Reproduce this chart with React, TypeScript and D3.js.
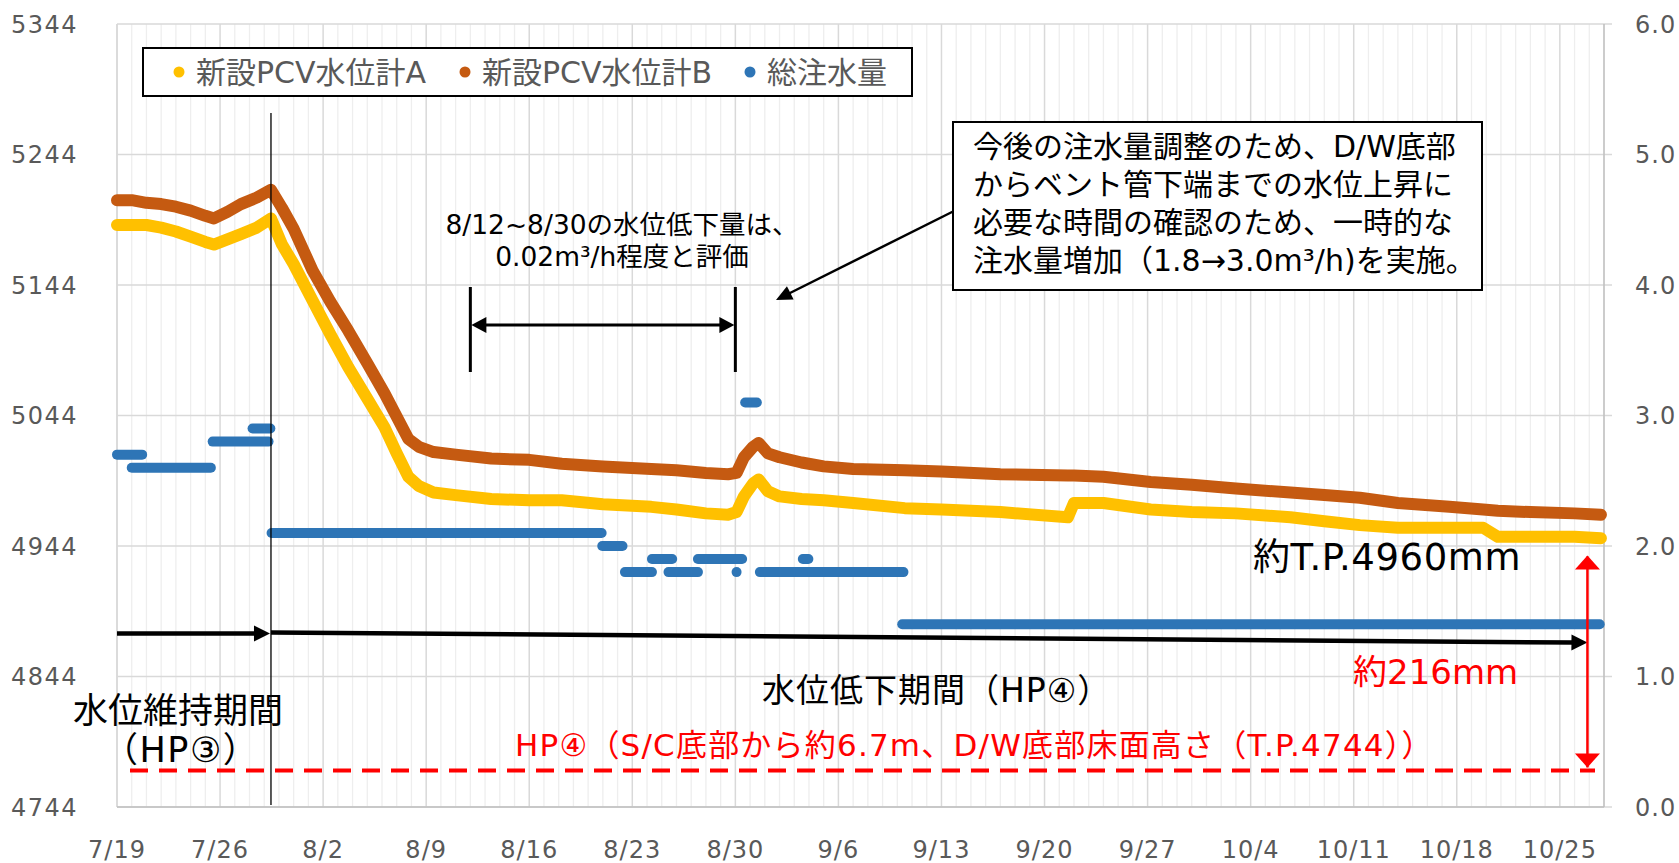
import React from "react";
import * as d3 from "d3";

// ---------- data ----------
const YEAR = 2023;
const xTickLabels = ["7/19", "7/26", "8/2", "8/9", "8/16", "8/23", "8/30", "9/6", "9/13", "9/20", "9/27", "10/4", "10/11", "10/18", "10/25"];
const xDomain = ["7/19 00:00", "10/28 00:00"];
const leftTicks = [4744, 4844, 4944, 5044, 5144, 5244, 5344];
const rightTicks = [0, 1, 2, 3, 4, 5, 6];

const levelTimes = [
  "7/19 00:00", "7/20 00:00", "7/21 00:00", "7/22 00:00", "7/23 00:00", "7/24 00:00", "7/25 00:00", "7/25 14:00",
  "7/26 12:00", "7/27 10:00", "7/28 12:00", "7/29 11:00", "7/30 05:00", "7/31 00:00", "8/1 07:00", "8/2 12:00",
  "8/3 17:00", "8/5 00:00", "8/6 04:00", "8/7 00:00", "8/7 19:00", "8/8 12:00", "8/9 12:00", "8/11 00:00",
  "8/13 10:00", "8/16 00:00", "8/18 05:00", "8/21 00:00", "8/24 07:00", "8/26 00:00", "8/28 00:00", "8/29 12:00",
  "8/30 02:00", "8/30 14:00", "8/31 05:00", "8/31 14:00", "9/1 05:00", "9/2 00:00", "9/3 12:00", "9/5 00:00",
  "9/7 00:00", "9/10 12:00", "9/13 00:00", "9/17 00:00", "9/21 14:00", "9/22 00:00", "9/24 00:00", "9/27 05:00",
  "9/30 00:00", "10/3 00:00", "10/6 17:00", "10/9 00:00", "10/11 10:00", "10/14 00:00", "10/17 12:00", "10/19 19:00",
  "10/20 19:00", "10/23 00:00", "10/26 00:00", "10/27 19:00",
];
const levelA = [
  5190, 5190, 5190, 5188, 5185, 5181, 5177, 5175,
  5179, 5183, 5188, 5195, 5175, 5160, 5132, 5106,
  5081, 5057, 5035, 5015, 4997, 4990, 4985, 4983,
  4980, 4979, 4979, 4976, 4974, 4972, 4969, 4968,
  4970, 4982, 4992, 4995, 4986, 4982, 4980, 4979,
  4977, 4973, 4972, 4970, 4966, 4977, 4977, 4972,
  4970, 4969, 4966, 4963, 4960, 4958, 4958, 4958,
  4951, 4951, 4951, 4950,
];
const levelB = [
  5209, 5209, 5207, 5206, 5204, 5201, 5197, 5195,
  5200, 5206, 5211, 5217, 5203, 5187, 5155, 5131,
  5109, 5084, 5061, 5043, 5026, 5020, 5016, 5014,
  5011, 5010, 5007, 5005, 5003, 5002, 5000, 4999,
  5000, 5012, 5020, 5023, 5015, 5012, 5008, 5005,
  5003, 5002, 5001, 4999, 4998, 4998, 4997, 4993,
  4991, 4988, 4985, 4983, 4981, 4977, 4974, 4972,
  4971, 4970, 4969, 4968,
];

// total injection (m3/h): constant periods
const injStart = [
  "7/19 00:00", "7/20 00:00", "7/25 12:00", "7/28 05:00", "7/29 12:00", "8/20 23:00", "8/22 12:00", "8/24 08:00",
  "8/25 11:00", "8/27 11:00", "8/30 02:00", "8/30 16:00", "8/31 16:00", "9/3 14:00", "9/10 08:00",
];
const injEnd = [
  "7/20 17:00", "7/25 09:00", "7/29 07:00", "7/29 10:00", "8/20 22:00", "8/22 08:00", "8/24 08:00", "8/25 17:00",
  "8/27 11:00", "8/30 11:00", "8/30 02:00", "8/31 11:00", "9/10 10:00", "9/3 23:00", "10/27 17:00",
];
const injValue = [2.7, 2.6, 2.8, 2.9, 2.1, 2.0, 1.8, 1.9, 1.8, 1.9, 1.8, 3.1, 1.8, 1.9, 1.4];

const legendLabels = ["新設PCV水位計A", "新設PCV水位計B", "総注水量"];
const colors = { A: "#FFC000", B: "#C55A11", inj: "#2E75B6" };

// ---------- helpers ----------
const parse = d3.timeParse("%Y/%m/%d %H:%M");
const T = (s: string) => parse(`${YEAR}/${s}`) as Date;
const FONT = "'DejaVu Sans', 'Noto Sans CJK JP', sans-serif";

function arrowHead(x1: number, y1: number, x2: number, y2: number, len: number, wid: number) {
  const a = Math.atan2(y2 - y1, x2 - x1);
  const bx = x2 - len * Math.cos(a), by = y2 - len * Math.sin(a);
  const px = -Math.sin(a) * wid / 2, py = Math.cos(a) * wid / 2;
  return `${x2},${y2} ${bx + px},${by + py} ${bx - px},${by - py}`;
}

export default function App() {
  const left = 117, right = 1604, top = 24, bottom = 807;
  const x = d3.scaleTime().domain([T(xDomain[0]), T(xDomain[1])]).range([left, right]);
  const yL = d3.scaleLinear().domain([4744, 5344]).range([bottom, top]);
  const yR = d3.scaleLinear().domain([0, 6]).range([bottom, top]);

  const days = d3.timeDay.range(T(xDomain[0]), d3.timeDay.offset(T(xDomain[1]), 1));
  const majorSet = new Set(xTickLabels.map((l) => +T(`${l} 00:00`)));

  const ptsA = levelTimes.map((t, i) => ({ t: T(t), v: levelA[i] }));
  const ptsB = levelTimes.map((t, i) => ({ t: T(t), v: levelB[i] }));
  const line = d3.line<{ t: Date; v: number }>().x((d) => x(d.t)).y((d) => yL(d.v));

  const xv = x(T("7/29 11:00"));
  const x812 = x(T("8/12 00:00"));
  const x830 = x(T("8/30 00:00"));
  const arrowY1 = yL(4877);
  const arrowY2 = yL(4870);
  const arrEnd = x(T("10/26 21:00"));
  const redY = yL(4772);

  return (
    <svg width={1679} height={863} style={{ position: "absolute", left: 0, top: 0, background: "#fff" }}>
      {/* gridlines */}
      {days.map((d, i) => {
        const major = majorSet.has(+d);
        return (
          <line key={"v" + i} x1={x(d)} x2={x(d)} y1={top} y2={bottom}
            stroke={major ? "#d9d9d9" : "#eeeeee"} strokeWidth={major ? 1.5 : 1.3} />
        );
      })}
      {leftTicks.map((v) => (
        <line key={"h" + v} x1={left} x2={right + 8} y1={yL(v)} y2={yL(v)} stroke="#d9d9d9" strokeWidth={1.5} />
      ))}
      <line x1={left} x2={left} y1={top} y2={bottom} stroke="#d9d9d9" strokeWidth={1.5} />
      <line x1={right} x2={right} y1={top} y2={bottom} stroke="#bfbfbf" strokeWidth={1.5} />
      <line x1={left} x2={right} y1={bottom} y2={bottom} stroke="#bfbfbf" strokeWidth={1.5} />

      {/* axis labels */}
      {leftTicks.map((v) => (
        <text key={"lt" + v} x={78} y={yL(v) + 8.5} textAnchor="end" fontFamily={FONT} fontSize={24} fill="#595959" letterSpacing={1.5}>{v}</text>
      ))}
      {rightTicks.map((v) => (
        <text key={"rt" + v} x={1635} y={yR(v) + 8.5} textAnchor="start" fontFamily={FONT} fontSize={24} fill="#595959" letterSpacing={1}>{v.toFixed(1)}</text>
      ))}
      {xTickLabels.map((l) => (
        <text key={"xt" + l} x={x(T(`${l} 00:00`))} y={858} textAnchor="middle" fontFamily={FONT} fontSize={24} fill="#595959" letterSpacing={1}>{l}</text>
      ))}

      {/* injection */}
      {injValue.map((q, i) => (
        <line key={"inj" + i} x1={x(T(injStart[i]))} x2={x(T(injEnd[i]))} y1={yR(q)} y2={yR(q)}
          stroke={colors.inj} strokeWidth={10} strokeLinecap="round" />
      ))}

      {/* water level */}
      <path d={line(ptsA) || ""} fill="none" stroke={colors.A} strokeWidth={12} strokeLinejoin="round" strokeLinecap="round" />
      <path d={line(ptsB) || ""} fill="none" stroke={colors.B} strokeWidth={12} strokeLinejoin="round" strokeLinecap="round" />

      {/* period arrows */}
      <line x1={left} y1={arrowY1} x2={xv - 14} y2={arrowY1} stroke="#000" strokeWidth={4.5} />
      <polygon points={arrowHead(left, arrowY1, xv - 1, arrowY1, 16, 16)} fill="#000" />
      <line x1={xv} y1={arrowY1 - 1} x2={arrEnd - 14} y2={arrowY2} stroke="#000" strokeWidth={4.5} />
      <polygon points={arrowHead(xv, arrowY1 - 1, arrEnd, arrowY2, 16, 16)} fill="#000" />

      {/* red dashed HP4 line */}
      <line x1={130} x2={1595} y1={redY} y2={redY} stroke="#FF0000" strokeWidth={4} strokeDasharray="18 11" />
      {/* red double arrow */}
      <line x1={arrEnd} x2={arrEnd} y1={yL(4936)} y2={redY - 3} stroke="#FF0000" strokeWidth={2.5} />
      <polygon points={arrowHead(arrEnd, 700, arrEnd, yL(4936) - 1, 14, 25)} fill="#FF0000" />
      <polygon points={arrowHead(arrEnd, 600, arrEnd, redY - 3, 14, 25)} fill="#FF0000" />

      {/* vertical line at start of decline */}
      <line x1={xv} x2={xv} y1={113} y2={bottom - 2} stroke="#000" strokeWidth={1.3} />

      {/* 8/12 - 8/30 bracket */}
      <line x1={x812} x2={x812} y1={287} y2={372} stroke="#000" strokeWidth={3} />
      <line x1={x830} x2={x830} y1={287} y2={372} stroke="#000" strokeWidth={3} />
      <line x1={x812 + 10} x2={x830 - 10} y1={325} y2={325} stroke="#000" strokeWidth={3} />
      <polygon points={arrowHead(x830, 325, x812 + 1, 325, 15, 16)} fill="#000" />
      <polygon points={arrowHead(x812, 325, x830 - 1, 325, 15, 16)} fill="#000" />
      <text x={622} y={234} textAnchor="middle" fontFamily={FONT} fontSize={26.5} fill="#000">8/12~8/30の水位低下量は、</text>
      <text x={622} y={266} textAnchor="middle" fontFamily={FONT} fontSize={26.5} fill="#000">0.02m³/h程度と評価</text>

      {/* callout */}
      <line x1={956} y1={210} x2={786} y2={295} stroke="#000" strokeWidth={2.5} />
      <polygon points={arrowHead(956, 210, 776, 300, 16, 15)} fill="#000" />
      <rect x={953} y={122} width={529} height={168} fill="#fff" stroke="#000" strokeWidth={2} />
      {["今後の注水量調整のため、D/W底部", "からベント管下端までの水位上昇に", "必要な時間の確認のため、一時的な", "注水量増加（1.8→3.0m³/h)を実施。"].map((s, i) => (
        <text key={"c" + i} x={973} y={157 + i * 38} fontFamily={FONT} fontSize={30} fill="#000">{s}</text>
      ))}

      {/* legend */}
      <rect x={143} y={48} width={769} height={48} fill="#fff" stroke="#000" strokeWidth={2} />
      {legendLabels.map((l, i) => {
        const cx = [179, 465, 750][i];
        const c = [colors.A, colors.B, colors.inj][i];
        return (
          <g key={"lg" + i}>
            <circle cx={cx} cy={72} r={5.5} fill={c} />
            <text x={cx + 17} y={83} fontFamily={FONT} fontSize={30} fill="#595959">{l}</text>
          </g>
        );
      })}

      {/* texts */}
      <text x={1253} y={570} fontFamily={FONT} fontSize={37} letterSpacing={0.6} fill="#000">約T.P.4960mm</text>
      <text x={1353} y={684} fontFamily={FONT} fontSize={34} fill="#FF0000">約216mm</text>
      <text x={762} y={702} fontFamily={FONT} fontSize={33} letterSpacing={1} fill="#000">水位低下期間（HP④）</text>
      <text x={73} y={723} fontFamily={FONT} fontSize={35} fill="#000">水位維持期間</text>
      <text x={103} y={762} fontFamily={FONT} fontSize={35} letterSpacing={1.5} fill="#000">（HP③）</text>
      <text x={515} y={756} fontFamily={FONT} fontSize={31} letterSpacing={1.2} fill="#FF0000">HP④（S/C底部から約6.7m、D/W底部床面高さ（T.P.4744））</text>
    </svg>
  );
}
